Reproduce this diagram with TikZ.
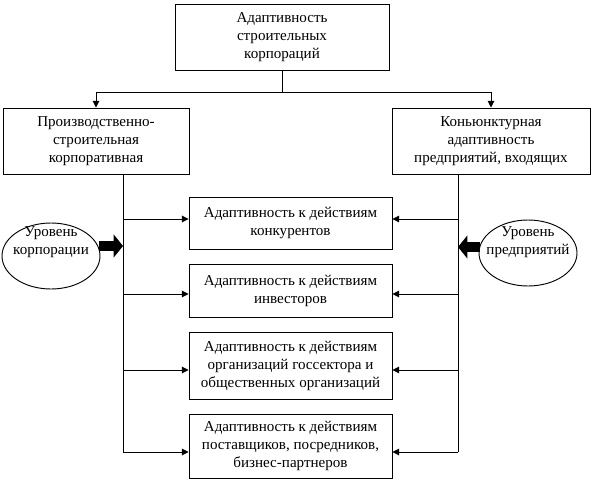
\documentclass[tikz,border=0pt]{standalone}
\usepackage{fontspec}
\setmainfont{Liberation Serif}
\usetikzlibrary{shapes.geometric, arrows.meta, positioning, calc}

\newcommand{\pxl}{0.75pt}

\tikzset{
  box/.style={draw, line width=0.7pt, align=center, inner sep=2pt,
              font=\fontsize{11.3}{13.5}\selectfont},
  lvl/.style={draw, ellipse, line width=0.7pt, inner sep=0pt,
              minimum width=98*\pxl, minimum height=66*\pxl},
  arr/.style={line width=0.7pt, -{Triangle[length=5pt, width=5pt]}},
  bigarr/.style={line width=8pt, -{Triangle[length=7pt, width=17pt]}}
}

\begin{document}
\begin{tikzpicture}[x=0.75pt, y=-0.75pt]
  \useasboundingbox (0,0) rectangle (598,484);

  \node[box, minimum width=214*\pxl, minimum height=66*\pxl] (top) at (282,37)
    {Адаптивность\\строительных\\корпораций};
  \node[box, minimum width=186*\pxl, minimum height=66*\pxl] (corp) at (96,141)
    {Производственно-\\строительная\\корпоративная};
  \node[box, minimum width=198*\pxl, minimum height=66*\pxl] (ent) at (491,141)
    {Коньюнктурная\\адаптивность\\предприятий, входящих};

  \node[box, minimum width=203*\pxl, minimum height=52*\pxl] (c1) at (290.5,223)
    {Адаптивность к действиям\\конкурентов};
  \node[box, minimum width=203*\pxl, minimum height=53*\pxl] (c2) at (290.5,290.5)
    {Адаптивность к действиям\\инвесторов};
  \node[box, minimum width=203*\pxl, minimum height=67*\pxl] (c3) at (290.5,365.5)
    {Адаптивность к действиям\\организаций госсектора и\\общественных организаций};
  \node[box, minimum width=203*\pxl, minimum height=64*\pxl] (c4) at (290.5,446)
    {Адаптивность к действиям\\поставщиков, посредников,\\бизнес-партнеров};

  \node[lvl, label={[box, draw=none, yshift=10pt]center:Уровень\\корпорации}]
    (lvlcorp) at (51,256) {};
  \node[lvl, label={[box, draw=none, yshift=8pt]center:Уровень\\предприятий}]
    (lvlent) at (528,253) {};

  \coordinate (split) at (282,92);
  \draw[line width=0.7pt] (top.south) -- (split);
  \draw[arr] (split) -| (corp.north);
  \draw[arr] (split) -| (ent.north);

  \coordinate (ltop) at (123,174);
  \coordinate (lbot) at (123,452);
  \coordinate (rtop) at (458,174);
  \coordinate (rbot) at (458,452);
  \draw[line width=0.7pt] (ltop) -- (lbot);
  \draw[line width=0.7pt] (rtop) -- (rbot);

  \foreach \c/\y in {c1/219, c2/294, c3/370, c4/452} {
    \draw[arr] (123,\y) -- (\c.west |- 0,\y);
    \draw[arr] (458,\y) -- (\c.east |- 0,\y);
  }

  \coordinate (lhit) at (123,246);
  \coordinate (rhit) at (458,247);
  \draw[bigarr] ([xshift=-1pt]lvlcorp.east |- lhit) -- (lhit);
  \draw[bigarr] ([xshift=1pt]lvlent.west |- rhit) -- (rhit);
\end{tikzpicture}
\end{document}
